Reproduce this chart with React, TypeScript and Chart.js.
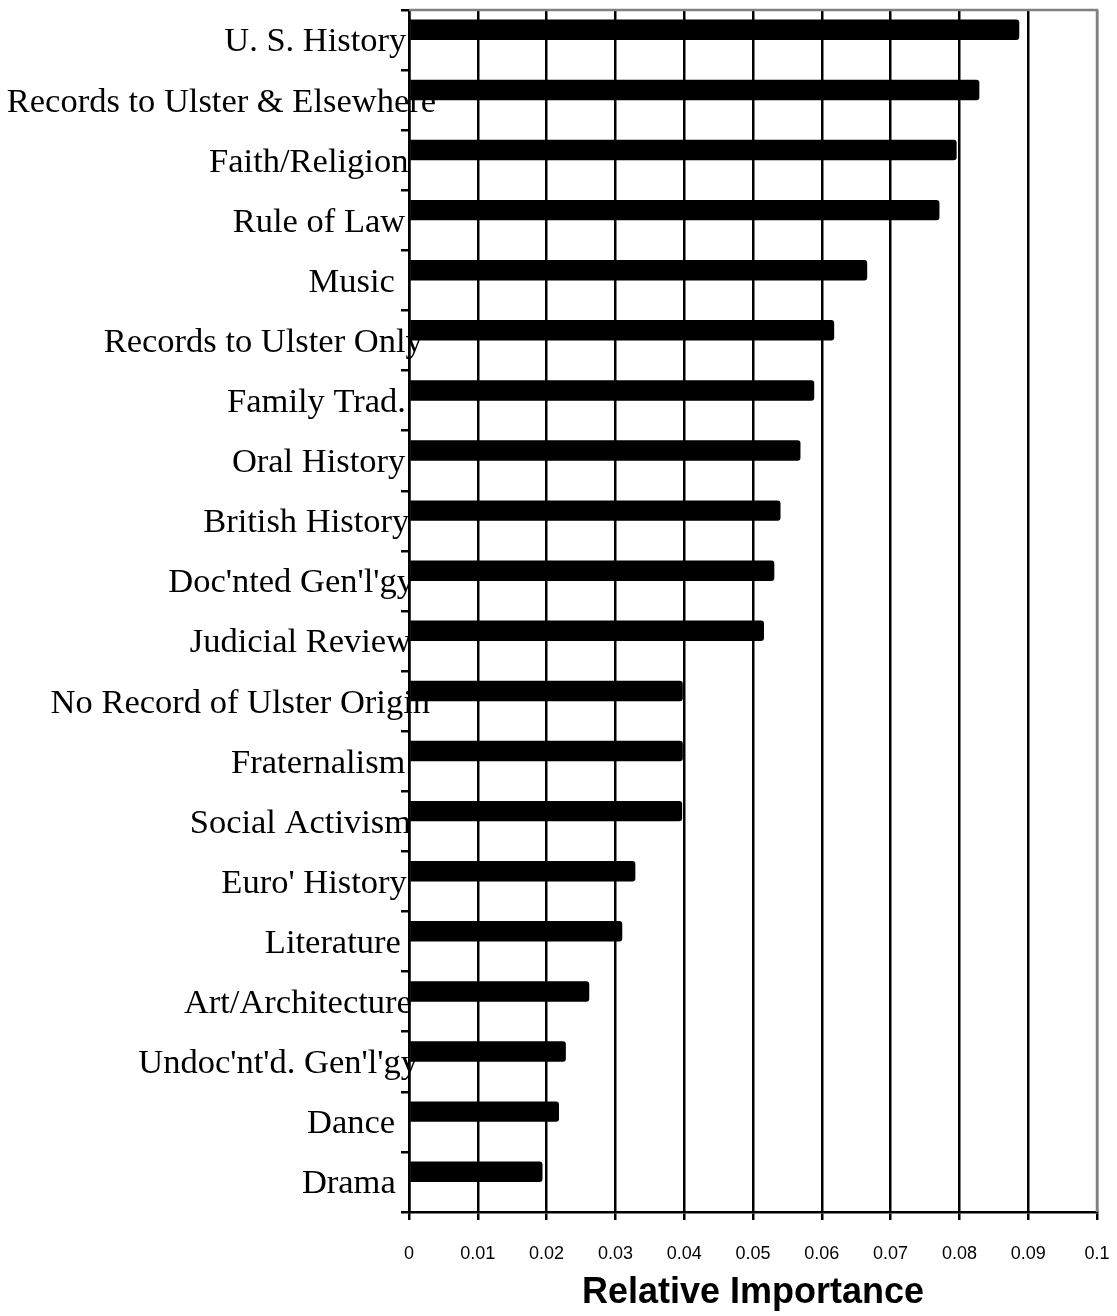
import { useEffect, useRef } from 'react';
import { Chart, registerables } from 'chart.js';

Chart.register(...registerables);

const categories = [
  'U. S. History',
  'Records to Ulster & Elsewhere',
  'Faith/Religion',
  'Rule of Law',
  'Music',
  'Records to Ulster Only',
  'Family Trad.',
  'Oral History',
  'British History',
  "Doc'nted Gen'l'gy",
  'Judicial Review',
  'No Record of Ulster Origin',
  'Fraternalism',
  'Social Activism',
  "Euro' History",
  'Literature',
  'Art/Architecture',
  "Undoc'nt'd. Gen'l'gy",
  'Dance',
  'Drama',
];

const importance = [
  0.0887, 0.0829, 0.0796, 0.0771, 0.0666, 0.0618, 0.0589, 0.0569, 0.054, 0.0531,
  0.0516, 0.0398, 0.0398, 0.0397, 0.0329, 0.031, 0.0262, 0.0228, 0.0218, 0.0194,
];

const xTickLabels = ['0', '0.01', '0.02', '0.03', '0.04', '0.05', '0.06', '0.07', '0.08', '0.09', '0.1'];

const axisTitle = 'Relative Importance';

const LABEL_FONT_SIZE = 34.5;

const serifLabelPlugin = {
  id: 'serifLabels',
  beforeDraw(chart: any) {
    const ctx = chart.ctx;
    const yScale = chart.scales.y;
    const area = chart.chartArea;
    ctx.save();
    ctx.font = `${LABEL_FONT_SIZE}px "Liberation Serif", "Times New Roman", serif`;
    ctx.fillStyle = '#000';
    ctx.textAlign = 'left';
    ctx.textBaseline = 'alphabetic';
    categories.forEach((label, i) => {
      const w = ctx.measureText(label).width;
      const yc = yScale.getPixelForTick(i);
      ctx.fillText(label, area.left - 24.5 - 0.88 * w, yc + 0.331 * LABEL_FONT_SIZE);
    });
    ctx.restore();
  },
};

const frameBorderPlugin = {
  id: 'frameBorder',
  beforeDatasetsDraw(chart: any) {
    const ctx = chart.ctx;
    const a = chart.chartArea;
    ctx.save();
    ctx.strokeStyle = '#808080';
    ctx.lineWidth = 2.5;
    ctx.beginPath();
    ctx.moveTo(a.left, a.top);
    ctx.lineTo(a.right, a.top);
    ctx.lineTo(a.right, a.bottom);
    ctx.stroke();
    ctx.restore();
  },
};

export default function App() {
  const canvasRef = useRef<HTMLCanvasElement | null>(null);

  useEffect(() => {
    document.body.style.margin = '0';
    const canvas = canvasRef.current;
    if (!canvas) return;
    const chart = new Chart(canvas, {
      type: 'bar',
      data: {
        labels: categories,
        datasets: [
          {
            label: 'Relative Importance',
            data: importance,
            backgroundColor: '#000',
            borderRadius: 3,
            borderSkipped: 'start',
            categoryPercentage: 0.68,
            barPercentage: 1,
          },
          {
            label: '',
            data: [],
            backgroundColor: 'rgba(0,0,0,0)',
            categoryPercentage: 0.68,
            barPercentage: 1,
          },
        ],
      },
      options: {
        indexAxis: 'y',
        responsive: false,
        animation: false,
        devicePixelRatio: 1,
        layout: { padding: { top: 10, right: 20, left: 0, bottom: 0 } },
        plugins: {
          legend: { display: false },
          tooltip: { enabled: false },
        },
        scales: {
          y: {
            type: 'category',
            offset: true,
            ticks: { display: false },
            grid: {
              drawOnChartArea: false,
              drawTicks: true,
              tickLength: 8,
              color: '#000',
              lineWidth: 2.5,
              offset: true,
            },
            border: { color: '#000', width: 2.5 },
            afterFit: (s: any) => {
              s.width = 409;
            },
          },
          x: {
            type: 'linear',
            min: 0,
            max: 0.1,
            ticks: {
              stepSize: 0.01,
              color: '#000',
              padding: 23,
              maxRotation: 0,
              font: { family: '"Liberation Sans", Arial, sans-serif', size: 18 },
              callback: (_v: any, i: number) => xTickLabels[i],
            },
            grid: {
              drawOnChartArea: true,
              drawTicks: true,
              tickLength: 8,
              color: (c: any) => (c.index === xTickLabels.length - 1 ? '#808080' : '#000'),
              tickColor: '#000',
              lineWidth: 2.5,
            },
            border: { color: '#000', width: 2.5 },
            title: {
              display: true,
              text: axisTitle,
              color: '#000',
              font: { family: '"Liberation Sans", Arial, sans-serif', size: 36, weight: 'bold' },
              padding: { top: 0, bottom: 1 },
            },
            afterFit: (s: any) => {
              s.height = 104;
              s.paddingLeft = 0;
              s.paddingRight = 0;
            },
          },
        },
      },
      plugins: [serifLabelPlugin, frameBorderPlugin],
    });
    return () => chart.destroy();
  }, []);

  return (
    <div style={{ position: 'absolute', left: 0, top: 0, width: 1117, height: 1316, background: '#fff' }}>
      <canvas ref={canvasRef} width={1117} height={1316} />
    </div>
  );
}
